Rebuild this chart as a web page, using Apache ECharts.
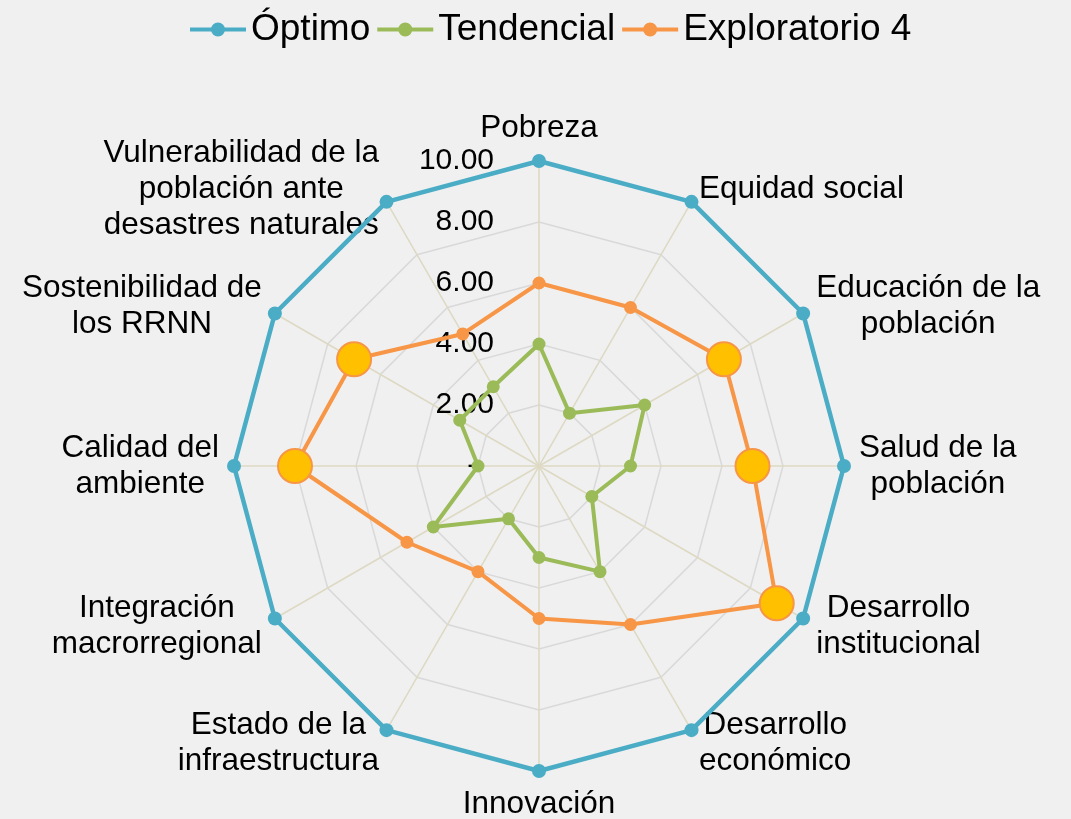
<!DOCTYPE html>
<html>
<head>
<meta charset="utf-8">
<script src="https://cdn.jsdelivr.net/npm/echarts@6/dist/echarts.min.js"></script>
<style>
html, body { margin: 0; padding: 0; background: #f0f0f0; }
#chart { width: 1071px; height: 819px; }
</style>
</head>
<body>
<div id="chart"></div>
<script>
// ejes del radar (sentido horario desde arriba)
var indicadores = [
    'Pobreza',
    'Equidad social',
    'Educación de la\npoblación',
    'Salud de la\npoblación',
    'Desarrollo\ninstitucional',
    'Desarrollo\neconómico',
    'Innovación',
    'Estado de la\ninfraestructura',
    'Integración\nmacrorregional',
    'Calidad del\nambiente',
    'Sostenibilidad de\nlos RRNN',
    'Vulnerabilidad de la\npoblación ante\ndesastres naturales'
];
var escenarios = ['Óptimo', 'Tendencial', 'Exploratorio 4'];
var optimo       = [10, 10, 10, 10, 10, 10, 10, 10, 10, 10, 10, 10];
var tendencial   = [4, 2, 4, 3, 2, 4, 3, 2, 4, 2, 3, 3];
var exploratorio = [6, 6, 7, 7, 9, 6, 5, 4, 5, 8, 7, 5];
// puntos resaltados del escenario exploratorio (indices de eje)
var destacados = [2, 3, 4, 9, 10];
var escala = [0, 10];

var colores = ['#4bacc6', '#9bbb59', '#f79646'];
var amarillo = '#ffc000';
var fuente = '"Liberation Sans", Arial, sans-serif';
var centro = [539, 466];
var radio = 305;

// echarts dibuja el radar en sentido antihorario: se invierte el orden
var orden = [0];
for (var k = indicadores.length - 1; k > 0; k--) orden.push(k);
function reordenar(arr) {
    return orden.map(function (i) { return arr[i]; });
}

// icono de leyenda: linea con punto
var iconoLinea = 'path://M0,5 L56,5 L56,9 L0,9 Z M21,7 A7,7 0 1,1 35,7 A7,7 0 1,1 21,7 Z';

var myChart = echarts.init(document.getElementById('chart'));

var option = {
    backgroundColor: '#f0f0f0',
    textStyle: { fontFamily: fuente },
    legend: {
        top: 6,
        left: 185,
        itemWidth: 56,
        itemHeight: 14,
        itemGap: 7,
        textStyle: { fontSize: 37, color: '#000', fontFamily: fuente },
        data: escenarios.map(function (n, i) {
            return { name: n, icon: iconoLinea, itemStyle: { color: colores[i] } };
        })
    },
    radar: {
        center: centro,
        radius: radio,
        startAngle: 90,
        shape: 'polygon',
        splitNumber: 5,
        nameGap: 15,
        indicator: reordenar(indicadores).map(function (n, i) {
            var ind = { name: n, min: escala[0], max: escala[1] };
            if (i === 0) ind.axisLabel = { show: true };
            return ind;
        }),
        axisName: {
            color: '#000',
            fontSize: 31.5,
            fontFamily: fuente,
            formatter: function (name) {
                return name.split('\n').map(function (s) { return '{c|' + s + '}'; }).join('\n');
            },
            rich: {
                c: { align: 'center', fontSize: 31.5, color: '#000', fontFamily: fuente, lineHeight: 36 }
            }
        },
        splitLine: { lineStyle: { color: '#d9d9d9', width: 1.5 } },
        splitArea: { show: false },
        axisLine: { lineStyle: { color: '#ddd9c3', width: 1.5 } },
        axisTick: { show: false },
        axisLabel: {
            show: false,
            showMinLabel: true,
            showMaxLabel: true,
            color: '#000',
            fontSize: 30,
            fontFamily: fuente,
            margin: 45,
            formatter: function (v) {
                return v === 0 ? '-  ' : v.toFixed(2);
            }
        }
    },
    // sistema polar superpuesto para los marcadores destacados
    polar: { center: centro, radius: radio },
    angleAxis: {
        type: 'value', min: 0, max: indicadores.length, startAngle: 90, clockwise: true,
        show: false
    },
    radiusAxis: { min: escala[0], max: escala[1], show: false },
    series: [{
        type: 'radar',
        symbol: 'circle',
        data: [
            {
                name: escenarios[0],
                value: reordenar(optimo),
                symbolSize: 14,
                lineStyle: { color: colores[0], width: 4.5 },
                itemStyle: { color: colores[0] }
            },
            {
                name: escenarios[1],
                value: reordenar(tendencial),
                symbolSize: 13,
                lineStyle: { color: colores[1], width: 4 },
                itemStyle: { color: colores[1] }
            },
            {
                name: escenarios[2],
                value: reordenar(exploratorio),
                symbolSize: 13,
                lineStyle: { color: colores[2], width: 4 },
                itemStyle: { color: colores[2] }
            }
        ]
    }, {
        name: 'destacados',
        type: 'scatter',
        coordinateSystem: 'polar',
        symbol: 'circle',
        symbolSize: 34,
        z: 3,
        itemStyle: { color: amarillo, borderColor: colores[2], borderWidth: 2, opacity: 1 },
        data: destacados.map(function (i) { return [exploratorio[i], i]; })
    }]
};

myChart.setOption(option);
</script>
</body>
</html>
